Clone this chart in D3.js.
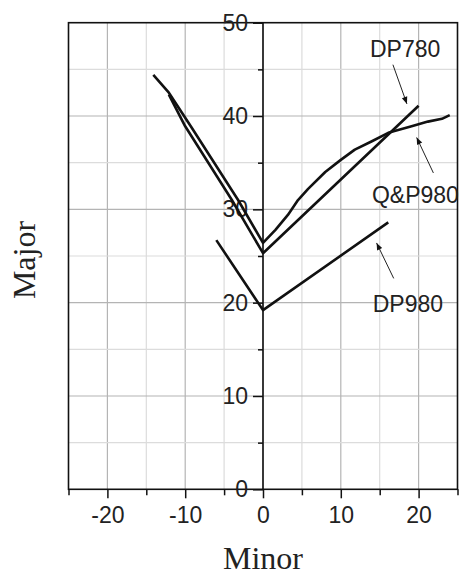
<!doctype html>
<html>
<head>
    <meta charset="utf-8">
    <title>Major vs Minor</title>
    <script src="https://cdn.jsdelivr.net/npm/d3@7"></script>
    <style>
        html, body { margin: 0; padding: 0; background: #fff; }
        svg { display: block; }
        .tick text { font-family: Arial, "Liberation Sans", sans-serif; font-size: 23px; fill: #222; }
        .title { font-family: "Times New Roman", "Liberation Serif", serif; font-size: 32px; fill: #222; }
        .note { font-family: Arial, "Liberation Sans", sans-serif; font-size: 23px; fill: #222; }
    </style>
</head>
<body>
<div id="chart"></div>
<script>
// series, [minor, major]
var dp780 = [[-12.1, 42.3], [-10, 38.9], [-4, 31.0], [0, 25.3], [20, 41.1]];
var qp980 = [[-14.1, 44.4], [-12.1, 42.5], [-9.2, 38.8], [-3.2, 31.0], [0, 26.4], [1.6, 27.8], [3.2, 29.4],
             [4.5, 31.0], [5.8, 32.2], [8, 34.0], [10, 35.3], [11.8, 36.4], [14, 37.3], [16.1, 38.2],
             [19.1, 38.9], [21.2, 39.4], [23, 39.7], [24, 40.1]];
var dp980 = [[-6, 26.7], [0, 19.2], [16.1, 28.6]];

var xTicks = [-20, -10, 0, 10, 20];
var yTicks = [0, 10, 20, 30, 40, 50];

// labels: text start, then arrow tail -> head (data units)
var notes = [
    { name: "DP780",  tx: 13.75, ty: 46.3, x1: 16.7, y1: 45.5, x2: 18.5, y2: 41.3 },
    { name: "Q&P980", tx: 14.0,  ty: 30.7, x1: 21.9, y1: 33.9, x2: 19.75, y2: 37.7 },
    { name: "DP980",  tx: 14.1,  ty: 19.0, x1: 16.8, y1: 22.6, x2: 14.6, y2: 26.4 }
];

var W = 465, H = 577;
var pLeft = 68.5, pRight = 457.5, pTop = 22.7, pBottom = 489.3;

var x = d3.scaleLinear().domain([-25, 25]).range([pLeft, pRight]);
var y = d3.scaleLinear().domain([0, 50]).range([pBottom, pTop]);

var svg = d3.select("#chart").append("svg")
    .attr("width", W)
    .attr("height", H);

svg.append("defs").append("marker")
    .attr("id", "head")
    .attr("viewBox", "0 0 10 10")
    .attr("refX", 10).attr("refY", 5)
    .attr("markerWidth", 12).attr("markerHeight", 7)
    .attr("markerUnits", "userSpaceOnUse")
    .attr("orient", "auto")
    .append("path")
    .attr("d", "M0,1 L10,5 L0,9 Z")
    .attr("fill", "#111");

// grid: every 5, darker at 10s
var g = svg.append("g");
d3.range(-20, 25, 5).forEach(function (v) {
    g.append("line")
        .attr("x1", x(v)).attr("x2", x(v))
        .attr("y1", pTop).attr("y2", pBottom)
        .attr("stroke", v % 10 === 0 ? "#b4b4b4" : "#dcdcdc")
        .attr("stroke-width", 1.2);
});
d3.range(5, 50, 5).forEach(function (v) {
    g.append("line")
        .attr("x1", pLeft).attr("x2", pRight)
        .attr("y1", y(v)).attr("y2", y(v))
        .attr("stroke", v % 10 === 0 ? "#b4b4b4" : "#dcdcdc")
        .attr("stroke-width", 1.2);
});

// frame
svg.append("rect")
    .attr("x", pLeft).attr("y", pTop)
    .attr("width", pRight - pLeft).attr("height", pBottom - pTop)
    .attr("fill", "none")
    .attr("stroke", "#111")
    .attr("stroke-width", 1.6);

// x axis at the bottom
var xAxis = svg.append("g")
    .attr("transform", "translate(0," + pBottom + ")")
    .call(d3.axisBottom(x).tickValues(d3.range(-25, 30, 5)).tickSize(9).tickPadding(8)
        .tickFormat(function (d) { return xTicks.indexOf(d) >= 0 ? d : ""; }));
xAxis.select(".domain").remove();
xAxis.selectAll(".tick line")
    .attr("y2", function (d) { return d % 10 === 0 ? 9 : 6; })
    .attr("stroke", "#111").attr("stroke-width", 1.5);

// y axis through minor = 0
var yAxis = svg.append("g")
    .attr("transform", "translate(" + x(0) + ",0)")
    .call(d3.axisLeft(y).tickValues(d3.range(0, 55, 5)).tickSize(10).tickPadding(5)
        .tickFormat(function (d) { return yTicks.indexOf(d) >= 0 ? d : ""; }));
yAxis.select(".domain")
    .attr("d", "M0," + pTop + "V" + pBottom)
    .attr("stroke", "#111").attr("stroke-width", 1.6);
yAxis.selectAll(".tick line")
    .attr("x2", function (d) { return d % 10 === 0 ? -10 : -5; })
    .attr("stroke", "#111").attr("stroke-width", 1.5);

// curves
var line = d3.line()
    .x(function (d) { return x(d[0]); })
    .y(function (d) { return y(d[1]); });

[qp980, dp780, dp980].forEach(function (s) {
    svg.append("path").datum(s)
        .attr("d", line)
        .attr("fill", "none").attr("stroke", "#111").attr("stroke-width", 2.6)
        .attr("stroke-linejoin", "round");
});

// labels and arrows
notes.forEach(function (n) {
    svg.append("text").attr("class", "note")
        .attr("x", x(n.tx)).attr("y", y(n.ty))
        .text(n.name);
    svg.append("line")
        .attr("x1", x(n.x1)).attr("y1", y(n.y1))
        .attr("x2", x(n.x2)).attr("y2", y(n.y2))
        .attr("stroke", "#222").attr("stroke-width", 1)
        .attr("marker-end", "url(#head)");
});

// axis titles
svg.append("text").attr("class", "title")
    .attr("x", x(0)).attr("y", 569)
    .attr("text-anchor", "middle")
    .text("Minor");
svg.append("text").attr("class", "title")
    .attr("transform", "translate(35,260) rotate(-90)")
    .attr("text-anchor", "middle")
    .text("Major");
</script>
</body>
</html>
